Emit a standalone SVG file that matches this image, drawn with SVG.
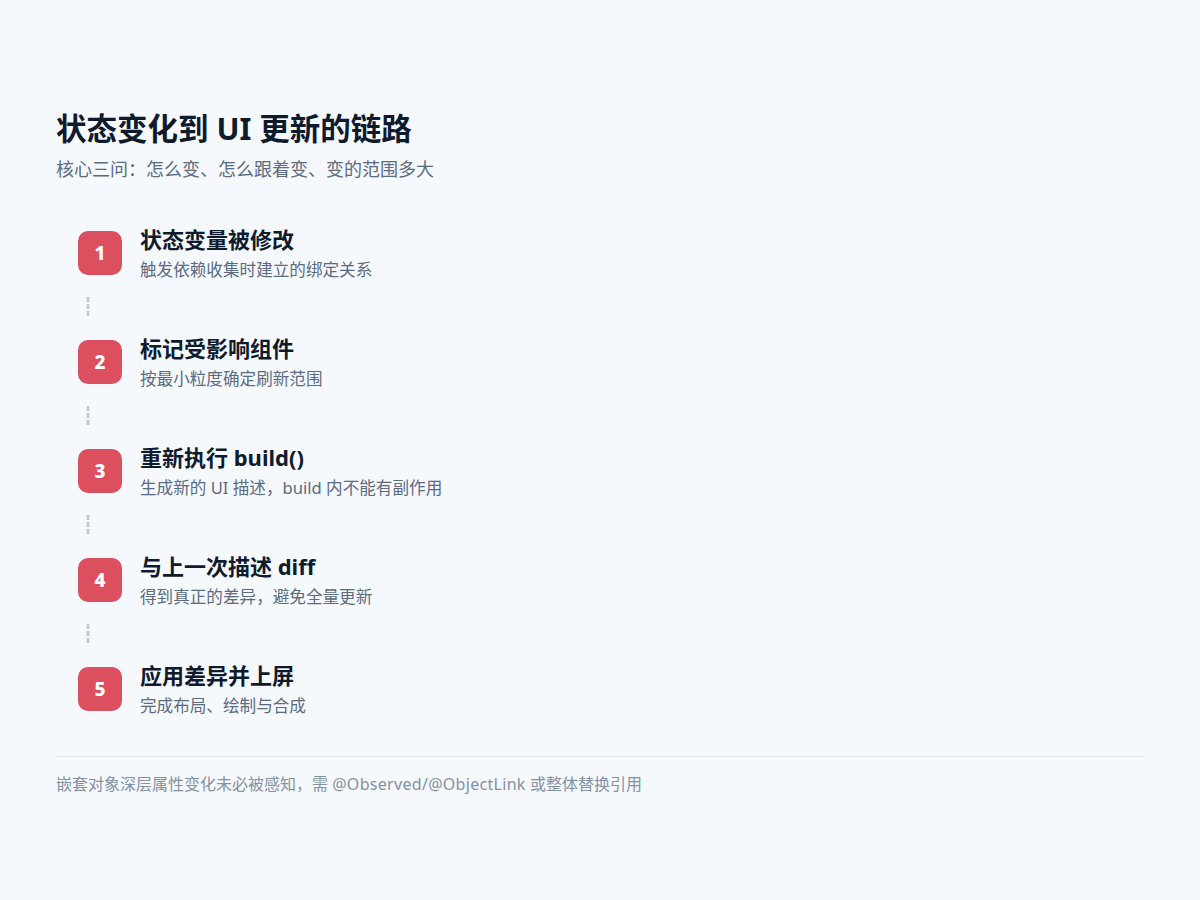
<svg xmlns="http://www.w3.org/2000/svg" width="1200" height="900" viewBox="0 0 1200 900">
<style>
text{font-family:"Noto Sans","Noto Sans CJK SC",sans-serif;}
.h1{font-size:30.5px;font-weight:700;fill:#0f1b2d;}
.sub{font-size:18px;fill:#5b6b80;}
.badge{fill:#db4f5e;}
.num{font-size:19px;font-weight:800;fill:#ffffff;text-anchor:middle;}
.t{font-size:22px;font-weight:700;fill:#0f1b2d;}
.d{font-size:16.6px;fill:#5b6b80;}
.conn{stroke:#b7c7dc;stroke-width:2.5;stroke-dasharray:5 2;fill:none;}
.foot{font-size:16px;fill:#8491a4;}
.lat{letter-spacing:0.3px;}
</style>
<rect x="0" y="0" width="1200" height="900" fill="#f5f8fc"/>
<g id="header">
<text class="h1" x="56" y="140">状态变化到 UI 更新的链路</text>
<text class="sub" x="56" y="176">核心三问：怎么变、怎么跟着变、变的范围多大</text>
</g>
<g id="connectors">
<line class="conn" x1="88" y1="297" x2="88" y2="317"/>
<line class="conn" x1="88" y1="406" x2="88" y2="426"/>
<line class="conn" x1="88" y1="515" x2="88" y2="535"/>
<line class="conn" x1="88" y1="624" x2="88" y2="644"/>
</g>
<g id="step1">
<rect class="badge" x="78" y="231" width="44" height="44" rx="10"/>
<text class="num" x="100" y="260">1</text>
<text class="t" x="140" y="248">状态变量被修改</text>
<text class="d" x="140" y="276">触发依赖收集时建立的绑定关系</text>
</g>
<g id="step2">
<rect class="badge" x="78" y="340" width="44" height="44" rx="10"/>
<text class="num" x="100" y="369">2</text>
<text class="t" x="140" y="357">标记受影响组件</text>
<text class="d" x="140" y="385">按最小粒度确定刷新范围</text>
</g>
<g id="step3">
<rect class="badge" x="78" y="449" width="44" height="44" rx="10"/>
<text class="num" x="100" y="478">3</text>
<text class="t" x="140" y="466">重新执行 build()</text>
<text class="d" x="140" y="494">生成新的 UI 描述，build 内不能有副作用</text>
</g>
<g id="step4">
<rect class="badge" x="78" y="558" width="44" height="44" rx="10"/>
<text class="num" x="100" y="587">4</text>
<text class="t" x="140" y="575">与上一次描述 diff</text>
<text class="d" x="140" y="603">得到真正的差异，避免全量更新</text>
</g>
<g id="step5">
<rect class="badge" x="78" y="667" width="44" height="44" rx="10"/>
<text class="num" x="100" y="696">5</text>
<text class="t" x="140" y="684">应用差异并上屏</text>
<text class="d" x="140" y="712">完成布局、绘制与合成</text>
</g>
<g id="footer">
<line x1="56" y1="756.5" x2="1144" y2="756.5" stroke="#e1e8f1" stroke-width="1"/>
<text class="foot" x="56" y="790">嵌套对象深层属性变化未必被感知，需 <tspan class="lat">@Observed/@ObjectLink</tspan> 或整体替换引用</text>
</g>
</svg>
